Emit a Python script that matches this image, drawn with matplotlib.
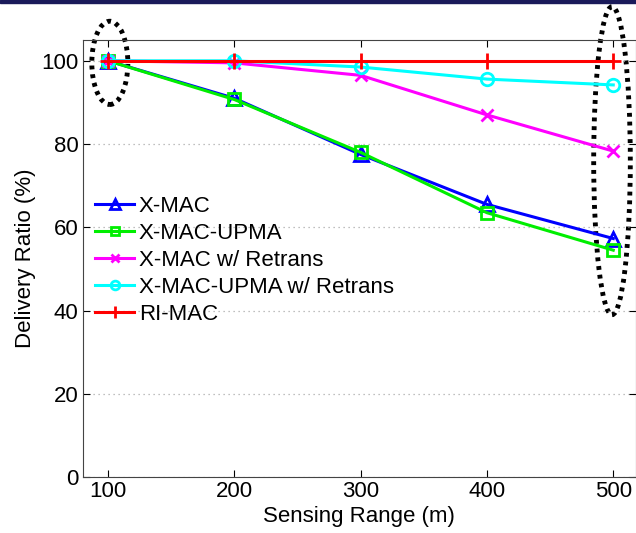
# Delivery ratio vs sensing range
import numpy as np
import matplotlib.pyplot as plt
from matplotlib.patches import Ellipse, Rectangle

plt.rcParams['font.family'] = ['Liberation Sans', 'DejaVu Sans']

sensing_range = [100, 200, 300, 400, 500]
xmac = [100, 91, 77.5, 65.5, 57.3]
xmac_upma = [100, 90.7, 78, 63.5, 54.5]
xmac_retrans = [100, 99.5, 96.5, 87, 78.3]
upma_retrans = [100, 100, 98.5, 95.6, 94.2]
rimac = [100, 100, 100, 100, 100]

fig = plt.figure(figsize=(6.36, 5.33), dpi=100)
ax = fig.add_axes([0.130, 0.105, 0.870, 0.820])

ax.plot(sensing_range, xmac, color='#0000ff', lw=2.2, marker='^', ms=10,
        mfc='none', mew=2, label='X-MAC')
ax.plot(sensing_range, xmac_upma, color='#00ee00', lw=2.2, marker='s', ms=8,
        mfc='none', mew=2, label='X-MAC-UPMA')
ax.plot(sensing_range, xmac_retrans, color='#ff00ff', lw=2.2, marker='x', ms=9,
        mew=2, label='X-MAC w/ Retrans')
ax.plot(sensing_range, upma_retrans, color='#00ffff', lw=2.2, marker='o', ms=9,
        mfc='none', mew=2, label='X-MAC-UPMA w/ Retrans')
ax.plot(sensing_range, rimac, color='#ff0000', lw=2.2, marker='+', ms=12,
        mew=2, label='RI-MAC')

ax.set_xlim(80, 518)
ax.set_ylim(0, 105)
ax.set_xticks(sensing_range)
ax.set_yticks([0, 20, 40, 60, 80, 100])
ax.yaxis.grid(True, linestyle=(0, (1, 3)), color='#aaaaaa', lw=0.9)
ax.tick_params(direction='in', top=True, right=True, labelsize=16, length=5, pad=3)
for s in ax.spines.values():
    s.set_color('#444444')

ax.set_xlabel('Sensing Range (m)', fontsize=16, labelpad=3)
ax.set_ylabel('Delivery Ratio (%)', fontsize=16, labelpad=4)

ax.legend(loc='upper left', bbox_to_anchor=(0.007, 0.664), frameon=False,
          fontsize=16, handlelength=1.75, labelspacing=0.27, markerscale=0.7,
          handletextpad=0.2, borderaxespad=0)

# dotted ellipses highlighting first and last points
for cx, cy, w, h in [(101.5, 99.5, 28.5, 20), (499, 76, 29, 74)]:
    ax.add_patch(Ellipse((cx, cy), w, h, fill=False, color='black',
                         lw=3.5, linestyle=(0, (0.8, 1.0)), clip_on=False))

# slide header strip
fig.patches.append(Rectangle((0, 0.994), 1, 0.006, transform=fig.transFigure,
                             color='#1a1a5a'))

fig.savefig('out.png', dpi=100)
